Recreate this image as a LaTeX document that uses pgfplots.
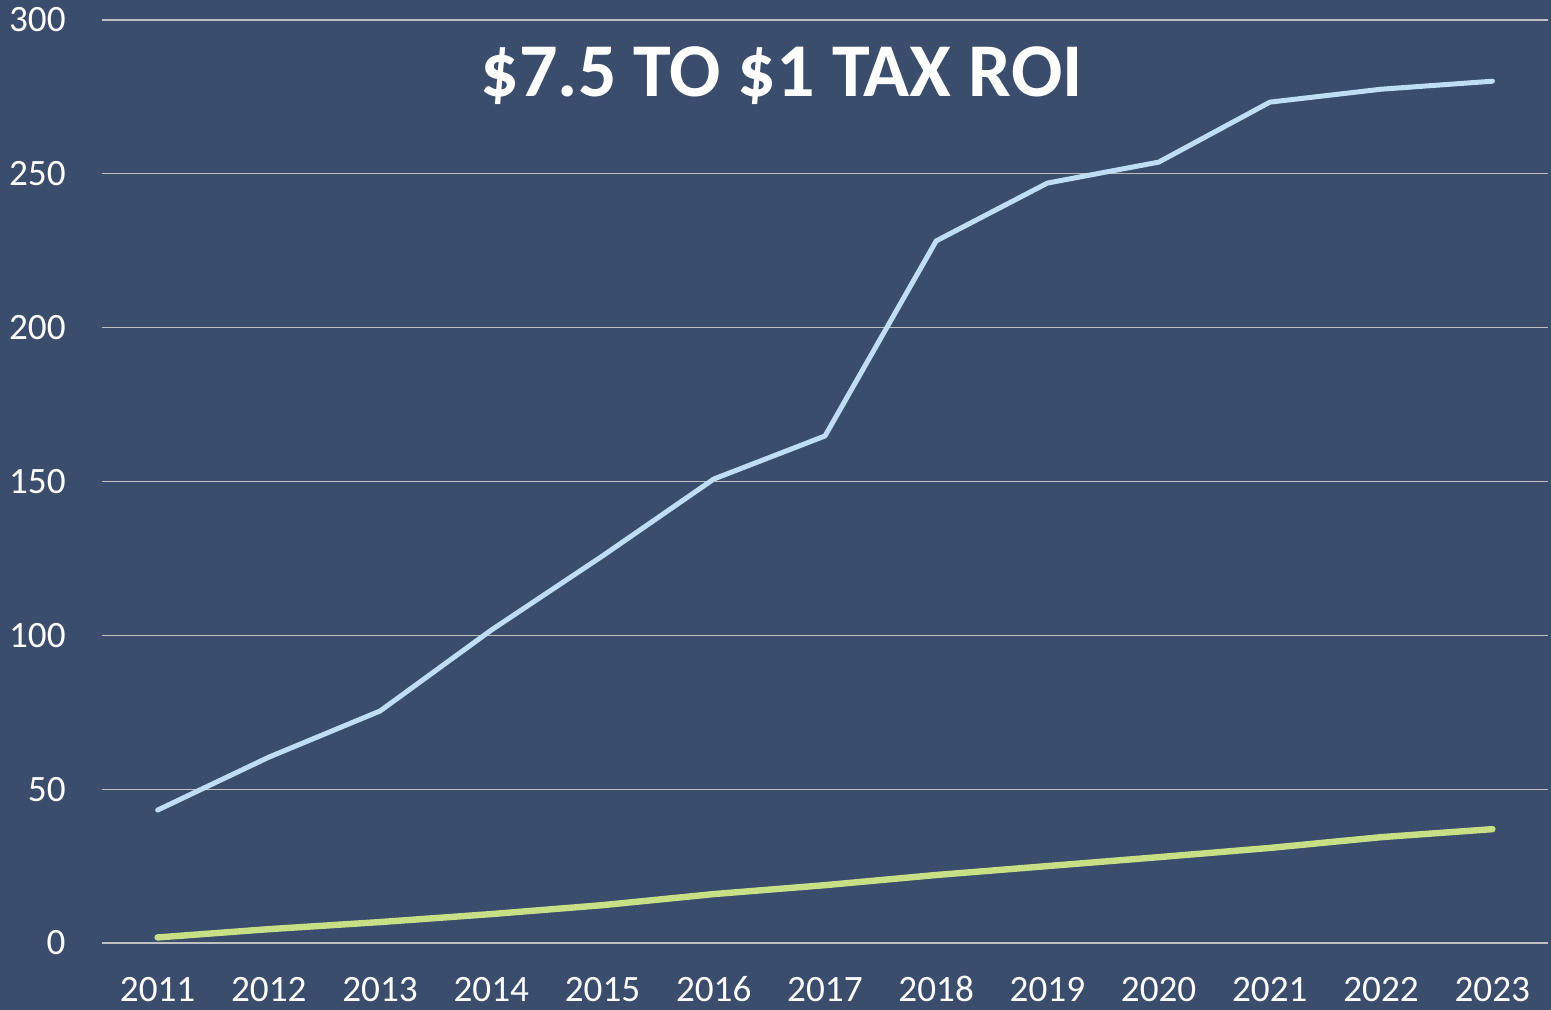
\documentclass[border=0pt]{standalone}
\usepackage{fontspec}
\setmainfont{Carlito}
\usepackage{pgfplots}
\pgfplotsset{compat=1.18}
\definecolor{bg}{HTML}{3A4D6D}
\definecolor{grid}{HTML}{A3AABA}
\definecolor{lblue}{HTML}{BFDDF5}
\definecolor{lgreen}{HTML}{C9DF85}
\begin{document}
\begin{tikzpicture}
\fill[bg] (-51pt,-33.5pt) rectangle (724.5pt,471.5pt);
\begin{axis}[
  at={(0,0)}, anchor=south west,
  scale only axis, width=723pt, height=461.5pt,
  xmin=2010.5, xmax=2023.5, ymin=0, ymax=300,
  xtick={2011,...,2023}, ytick={0,50,...,300},
  xticklabel style={/pgf/number format/1000 sep={}},
  /pgf/number format/assume math mode=true,
  axis line style={draw=none},
  major tick length=0pt, tick style={draw=none},
  xmajorgrids=false, ymajorgrids=true,
  major grid style={grid, line width=0.6pt},
  tick label style={font=\fontsize{18.6}{20}\selectfont, text=white, inner sep=0pt},
  yticklabel style={anchor=east, xshift=-18pt},
  xticklabel style={anchor=base, yshift=-29.5pt},
  clip=false,
]
\addplot[lblue, line width=2.5pt, line cap=round, line join=round] coordinates {
(2011,43.2) (2012,60.4) (2013,75.4) (2014,101.7) (2015,125.8) (2016,150.8) (2017,164.8)
(2018,228.2) (2019,247.0) (2020,253.8) (2021,273.3) (2022,277.5) (2023,280.1)};
\addplot[lgreen, line width=3.2pt, line cap=round, line join=round] coordinates {
(2011,1.8) (2012,4.5) (2013,6.8) (2014,9.4) (2015,12.3) (2016,15.9) (2017,18.8)
(2018,22.1) (2019,25.0) (2020,27.9) (2021,30.9) (2022,34.4) (2023,37.0)};
\node[text=white, font=\fontsize{38}{40}\bfseries, inner sep=0pt] at (axis cs:2016.61,282) {\$7.5 TO \$1 TAX ROI};
\end{axis}
\pgfresetboundingbox
\path (-51pt,-33.5pt) rectangle (724.5pt,471.5pt);
\end{tikzpicture}
\end{document}
